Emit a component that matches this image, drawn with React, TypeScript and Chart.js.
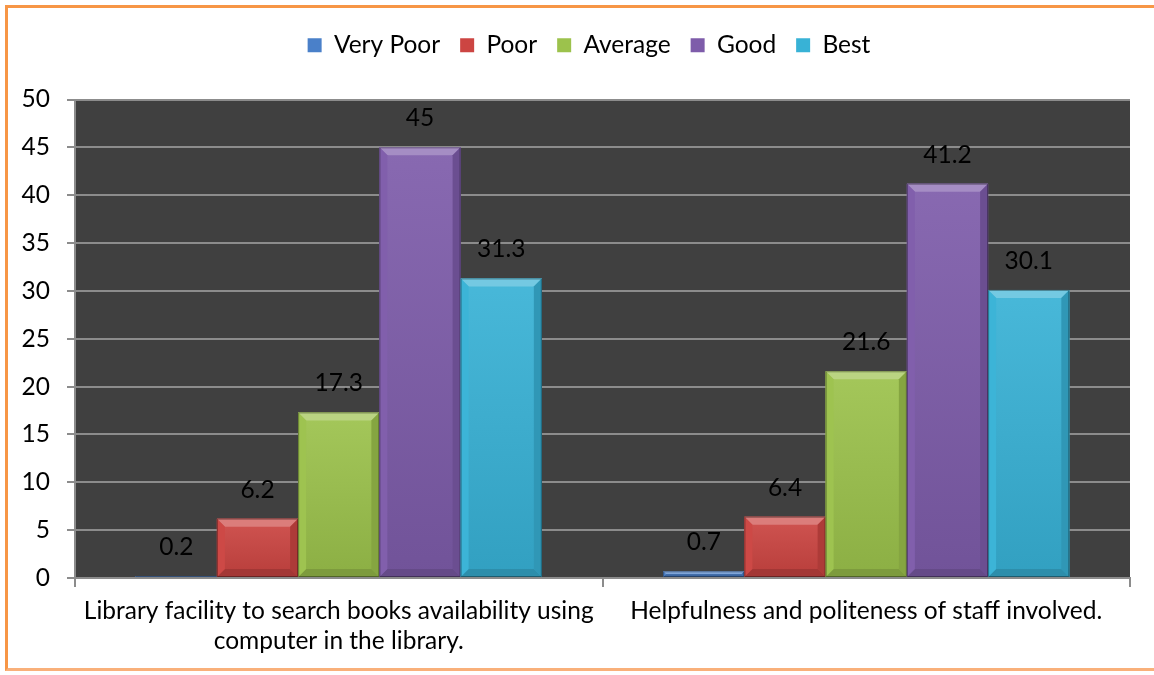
import React, { useEffect, useRef } from "react";
import { Chart, registerables } from "chart.js";

Chart.register(...registerables);

const categories: string[][] = [
  ["Library facility to search books availability using", "computer in the library."],
  ["Helpfulness and politeness of staff involved."],
];
const seriesNames = ["Very Poor", "Poor", "Average", "Good", "Best"];
const veryPoor = [0.2, 0.7];
const poor = [6.2, 6.4];
const average = [17.3, 21.6];
const good = [45, 41.2];
const best = [31.3, 30.1];
const seriesValues = [veryPoor, poor, average, good, best];
const seriesColors = ["#4A80C9", "#CC4542", "#9CC24C", "#7E5CAA", "#38B2D6"];
const yMax = 50;
const yStep = 5;

const FONT = "Lato";
const FS = 24.5;

function shade(hex: string, amt: number) {
  const n = parseInt(hex.slice(1), 16);
  const r = (n >> 16) & 255, g = (n >> 8) & 255, b = n & 255;
  const f = (c: number) => Math.max(0, Math.min(255, Math.round(amt >= 0 ? c + (255 - c) * amt : c * (1 + amt))));
  return `rgb(${f(r)},${f(g)},${f(b)})`;
}

const plotBg = {
  id: "plotBg",
  beforeDraw(chart: any) {
    const { ctx, chartArea: a } = chart;
    ctx.save();
    ctx.fillStyle = "#404040";
    ctx.fillRect(a.left, a.top, a.right - a.left, a.bottom - a.top);
    ctx.restore();
  },
};

// adds a gap below the legend and centres it like the reference
const legendGap = {
  id: "legendGap",
  afterInit(chart: any) {
    const lg = chart.legend;
    if (lg && !lg.__gapped) {
      const orig = lg.fit;
      lg.fit = function () {
        orig.call(this);
        this.height += 32;
      };
      lg.__gapped = true;
    }
  },
  afterLayout(chart: any) {
    const lg = chart.legend;
    if (lg) {
      lg.left += 24;
      lg.right = lg.left + lg.width;
    }
  },
};

const bevel = {
  id: "bevel",
  afterDatasetsDraw(chart: any) {
    const { ctx } = chart;
    chart.data.datasets.forEach((ds: any, di: number) => {
      const meta = chart.getDatasetMeta(di);
      const base = seriesColors[di];
      meta.data.forEach((bar: any) => {
        const l = bar.x - bar.width / 2;
        const r = bar.x + bar.width / 2;
        const t = Math.min(bar.y, bar.base);
        const b = Math.max(bar.y, bar.base);
        const h = b - t;
        const bv = Math.min(8, h / 2);
        ctx.save();
        const g = ctx.createLinearGradient(0, t, 0, b);
        g.addColorStop(0, shade(base, 0.08));
        g.addColorStop(1, shade(base, -0.1));
        ctx.fillStyle = g;
        ctx.fillRect(l, t, r - l, h);
        ctx.fillStyle = shade(base, 0.3);
        ctx.beginPath();
        ctx.moveTo(l, t);
        ctx.lineTo(r, t);
        ctx.lineTo(r - bv, t + bv);
        ctx.lineTo(l + bv, t + bv);
        ctx.closePath();
        ctx.fill();
        ctx.fillStyle = shade(base, -0.2);
        ctx.beginPath();
        ctx.moveTo(l, b);
        ctx.lineTo(r, b);
        ctx.lineTo(r - bv, b - bv);
        ctx.lineTo(l + bv, b - bv);
        ctx.closePath();
        ctx.fill();
        ctx.fillStyle = shade(base, 0.02);
        ctx.beginPath();
        ctx.moveTo(l, t);
        ctx.lineTo(l + bv, t + bv);
        ctx.lineTo(l + bv, b - bv);
        ctx.lineTo(l, b);
        ctx.closePath();
        ctx.fill();
        ctx.fillStyle = shade(base, -0.15);
        ctx.beginPath();
        ctx.moveTo(r, t);
        ctx.lineTo(r - bv, t + bv);
        ctx.lineTo(r - bv, b - bv);
        ctx.lineTo(r, b);
        ctx.closePath();
        ctx.fill();
        ctx.strokeStyle = "rgba(0,0,0,0.35)";
        ctx.lineWidth = 1;
        ctx.strokeRect(l + 0.5, t + 0.5, r - l - 1, h - 1);
        ctx.restore();
      });
    });
  },
};

const valueLabels = {
  id: "valueLabels",
  afterDatasetsDraw(chart: any) {
    const { ctx } = chart;
    ctx.save();
    ctx.font = `${FS}px ${FONT}`;
    ctx.fillStyle = "#000";
    ctx.textAlign = "center";
    ctx.textBaseline = "middle";
    chart.data.datasets.forEach((ds: any, di: number) => {
      const meta = chart.getDatasetMeta(di);
      meta.data.forEach((bar: any, i: number) => {
        ctx.fillText(String(ds.data[i]), bar.x, bar.y - 29);
      });
    });
    ctx.restore();
  },
};

export default function App() {
  const ref = useRef<HTMLCanvasElement | null>(null);
  useEffect(() => {
    document.body.style.margin = "0";
    if (!ref.current) return;
    const chart = new Chart(ref.current, {
      type: "bar",
      data: {
        labels: categories,
        datasets: seriesNames.map((name, i) => ({
          label: name,
          data: seriesValues[i],
          backgroundColor: seriesColors[i],
          borderWidth: 0,
          categoryPercentage: 0.77,
          barPercentage: 1,
        })),
      },
      options: {
        animation: false,
        responsive: true,
        maintainAspectRatio: false,
        layout: { padding: { top: 13, right: 24, left: 0, bottom: 0 } },
        plugins: {
          tooltip: { enabled: false },
          legend: {
            position: "top",
            labels: {
              boxWidth: 14,
              boxHeight: 14,
              padding: 20,
              color: "#000",
              font: { family: FONT, size: FS },
            },
          },
        },
        scales: {
          x: {
            afterFit: (s: any) => { s.height = 97; },
            grid: {
              offset: true,
              drawOnChartArea: false,
              drawTicks: true,
              tickLength: 9,
              color: "#8c8c8c",
              lineWidth: 2,
            },
            border: { display: true, color: "#8c8c8c", width: 2 },
            ticks: {
              color: "#000",
              font: { family: FONT, size: FS, lineHeight: 1.22 },
              padding: 9,
              maxRotation: 0,
            },
          },
          y: {
            min: 0,
            max: yMax,
            afterFit: (s: any) => { s.width = 75; },
            ticks: {
              stepSize: yStep,
              color: "#000",
              font: { family: FONT, size: FS },
              padding: 17,
            },
            grid: {
              color: "#8c8c8c",
              lineWidth: 2,
              tickLength: 8,
            },
            border: { display: true, color: "#8c8c8c", width: 2 },
          },
        },
      },
      plugins: [legendGap, plotBg, bevel, valueLabels],
    } as any);
    return () => chart.destroy();
  }, []);
  return (
    <div style={{ position: "relative", width: 1154, height: 675, background: "#fff", overflow: "hidden" }}>
      <div
        style={{
          position: "absolute",
          left: 5,
          top: 5,
          width: 1400,
          height: 666,
          borderTop: "3px solid #F79646",
          borderLeft: "3px solid #F79646",
          borderBottom: "3px solid #F9B07A",
          boxSizing: "border-box",
        }}
      />
      <canvas ref={ref} style={{ position: "absolute", left: 0, top: 0, width: 1154, height: 675 }} />
    </div>
  );
}
